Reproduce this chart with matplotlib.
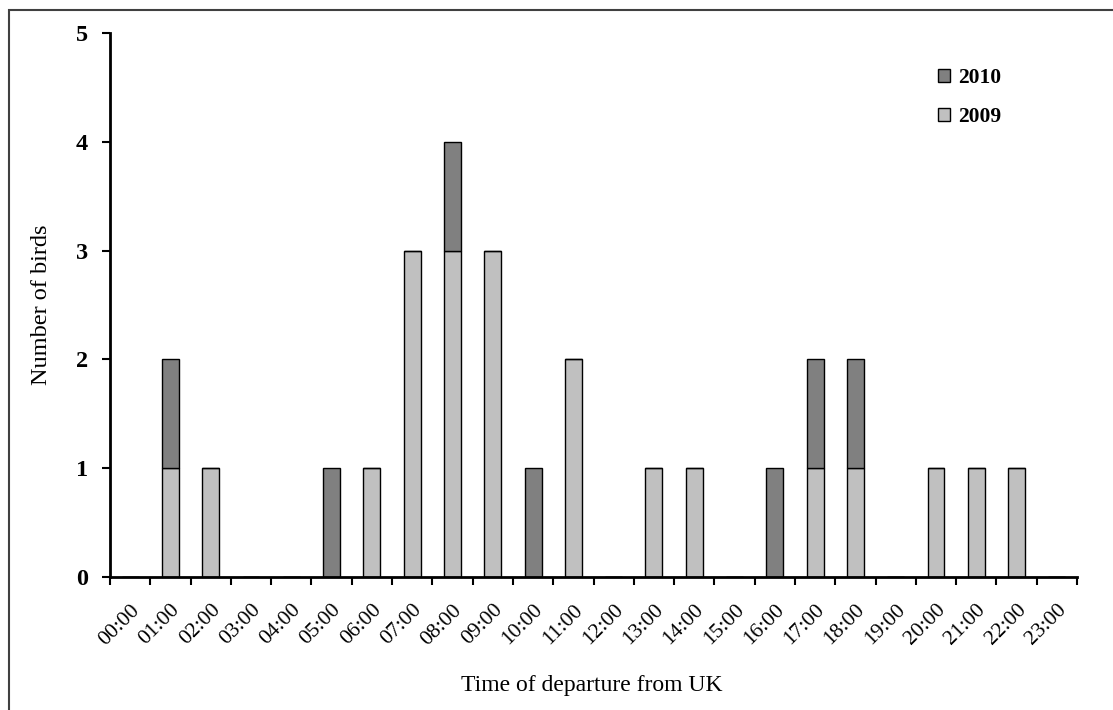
import matplotlib
matplotlib.use("Agg")
import matplotlib.pyplot as plt
from matplotlib.patches import Rectangle
import numpy as np

hours = [f"{h:02d}:00" for h in range(24)]
birds_2009 = [0, 1, 1, 0, 0, 0, 1, 3, 3, 3, 0, 2, 0, 1, 1, 0, 0, 1, 1, 0, 1, 1, 1, 0]
birds_2010 = [0, 1, 0, 0, 0, 1, 0, 0, 1, 0, 1, 0, 0, 0, 0, 0, 1, 1, 1, 0, 0, 0, 0, 0]

plt.rcParams['font.family'] = ['Liberation Serif', 'DejaVu Serif']

W, H = 1113, 710
fig = plt.figure(figsize=(W / 100, H / 100), dpi=100)
ax = fig.add_axes([110 / W, 1 - 577 / H, (1077 - 110) / W, (577 - 33) / H])

# outer frame around the chart area
fig.patches.append(Rectangle((9 / W, -0.1), 1.2, 1 - 10 / H + 0.1,
                             transform=fig.transFigure, fill=False,
                             edgecolor='#404040', linewidth=1.5))

x = np.arange(len(hours))
width = 0.42
ax.bar(x, birds_2009, width, color='#c0c0c0', edgecolor='black', linewidth=1.0,
       label='2009', zorder=2)
ax.bar(x, birds_2010, width, bottom=birds_2009, color='#808080', edgecolor='black',
       linewidth=1.0, label='2010', zorder=2)

ax.set_xlim(-0.5, 23.5)
ax.set_ylim(0, 5)

ax.set_xticks(np.arange(-0.5, 24, 1))
ax.set_xticklabels([])
ax.set_xticks(x, minor=True)
ax.set_xticklabels(hours, minor=True, rotation=45, ha='right', va='top',
                   rotation_mode='anchor', fontsize=15.5)
ax.tick_params(axis='x', which='major', direction='out', length=6, width=1.5)
ax.tick_params(axis='x', which='minor', length=0, pad=17)

ax.set_yticks(range(6))
ax.set_yticklabels([str(v) for v in range(6)], fontsize=17.5, fontweight='bold')
ax.tick_params(axis='y', direction='out', length=6, width=1.5, pad=10)

for s in ['top', 'right']:
    ax.spines[s].set_visible(False)
for s in ['left', 'bottom']:
    ax.spines[s].set_linewidth(2)

ax.set_xlabel('Time of departure from UK', fontsize=17)
ax.xaxis.set_label_coords((592 - 110) / (1077 - 110), -(675 - 577) / (577 - 33))
ax.set_ylabel('Number of birds', fontsize=17.5)
ax.yaxis.set_label_coords(-(110 - 52) / (1077 - 110), 0.5)

handles, labels = ax.get_legend_handles_labels()
leg = ax.legend(handles[::-1], labels[::-1], loc='upper left',
                bbox_to_anchor=((919 - 110) / (1077 - 110), 1 - (49 - 33) / (577 - 33)),
                frameon=False, handlelength=0.55, handleheight=0.55, handletextpad=0.35,
                labelspacing=0.85, prop={'size': 15.5, 'weight': 'bold'})

fig.savefig('out.png', dpi=100)
